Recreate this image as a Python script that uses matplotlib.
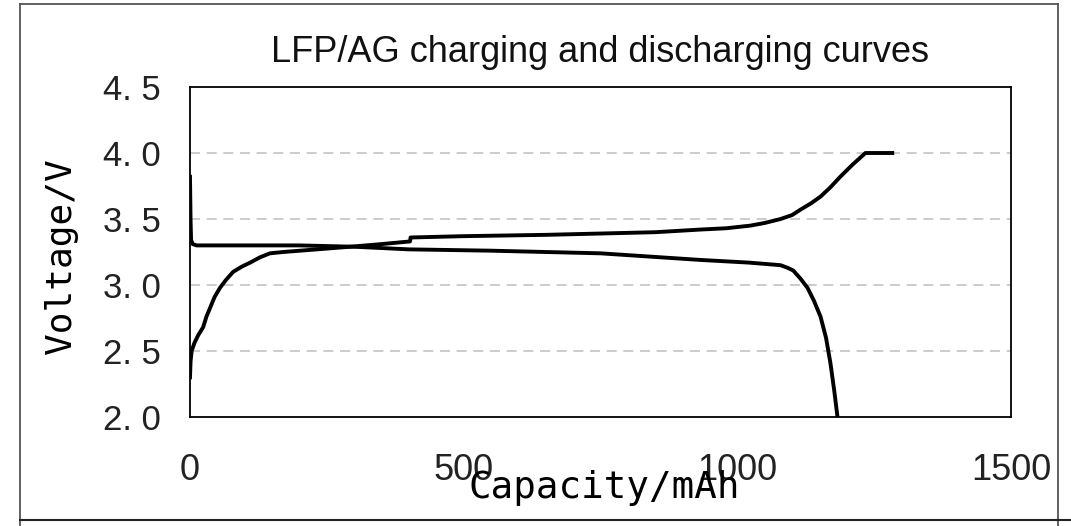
import matplotlib
matplotlib.use("Agg")
from matplotlib import pyplot as plt
from matplotlib.lines import Line2D

# charge curve (lower start, ends at 4.0 V)
charge_cap = [0, 1, 3, 8, 15, 24, 30, 37, 45, 55, 66, 79, 95, 110, 128, 146,
              170, 201, 293, 350, 402, 403, 500, 650, 750, 850, 932, 980,
              1024, 1050, 1079, 1100, 1115, 1135, 1152, 1170, 1188, 1210,
              1234, 1283]
charge_v = [2.30, 2.42, 2.50, 2.56, 2.62, 2.68, 2.76, 2.83, 2.91, 2.98, 3.04,
            3.10, 3.14, 3.17, 3.21, 3.24, 3.25, 3.26, 3.29, 3.31, 3.33, 3.36,
            3.37, 3.38, 3.39, 3.40, 3.42, 3.43, 3.45, 3.47, 3.50, 3.53, 3.57,
            3.62, 3.67, 3.74, 3.82, 3.91, 4.00, 4.00]

# discharge curve
discharge_cap = [0, 1, 2, 5, 12, 100, 200, 300, 400, 550, 750, 932, 1020,
                 1050, 1079, 1092, 1102, 1115, 1128, 1140, 1152, 1162, 1170,
                 1177, 1183]
discharge_v = [3.82, 3.50, 3.34, 3.31, 3.30, 3.30, 3.30, 3.29, 3.27, 3.26,
               3.24, 3.19, 3.17, 3.16, 3.15, 3.13, 3.11, 3.05, 2.98, 2.88,
               2.76, 2.60, 2.41, 2.20, 2.00]

x_ticks = [0, 500, 1000, 1500]
y_ticks = [2.0, 2.5, 3.0, 3.5, 4.0, 4.5]
y_tick_labels = ["2. 0", "2. 5", "3. 0", "3. 5", "4. 0", "4. 5"]
grid_levels = [2.5, 3.0, 3.5, 4.0]


def main():
    fig = plt.figure(figsize=(10.71, 5.26), dpi=100)
    ax = fig.add_axes([0.1774, 0.2072, 0.7666, 0.6274])

    for g in grid_levels:
        ax.axhline(g, color="#c4c4c4", lw=1.2, dashes=(6, 4), zorder=1)

    ax.plot(charge_cap, charge_v, color="black", lw=2.8, zorder=3)
    ax.plot(discharge_cap, discharge_v, color="black", lw=2.8, zorder=3)

    ax.set_xlim(0, 1500)
    ax.set_ylim(2.0, 4.5)
    ax.set_xticks(x_ticks)
    ax.set_xticklabels([str(t) for t in x_ticks], fontsize=26,
                       family="Liberation Sans", color="#222222")
    ax.set_yticks(y_ticks)
    ax.set_yticklabels(y_tick_labels, fontsize=25,
                       family="Liberation Sans", color="#222222")
    ax.tick_params(axis="x", length=0, pad=26)
    ax.tick_params(axis="y", length=0, pad=21)
    for s in ax.spines.values():
        s.set_linewidth(1.3)
        s.set_color("black")

    ax.set_xlabel("Capacity/mAh", fontsize=27, family="DejaVu Sans Mono")
    ax.xaxis.set_label_coords(0.505, -0.16)
    ax.set_ylabel("Voltage/V", fontsize=26, family="DejaVu Sans Mono")
    ax.yaxis.set_label_coords(-0.136, 0.488)

    fig.text(0.560, 0.901, "LFP/AG charging and discharging curves",
             fontsize=26, family="Liberation Sans", ha="center", va="center",
             color="#111111")

    # outer frame
    l, r, t, b = 20 / 1071, 1058 / 1071, 1 - 4 / 526, 1 - 520 / 526
    frame = dict(color="#555555", lw=1.3, transform=fig.transFigure)
    fig.add_artist(Line2D([l, r], [t, t], **frame))
    fig.add_artist(Line2D([l, l], [t, 0], **frame))
    fig.add_artist(Line2D([r, r], [t, 0], **frame))
    fig.add_artist(Line2D([l, 1], [b, b], color="#222222", lw=1.5,
                          transform=fig.transFigure))

    fig.savefig("out.png", dpi=100)


if __name__ == "__main__":
    main()
